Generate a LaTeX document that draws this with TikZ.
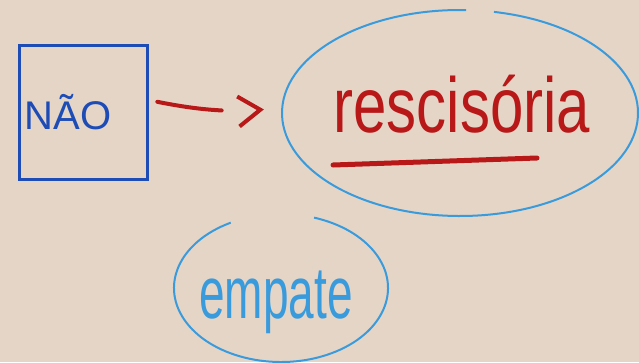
\documentclass[tikz,border=0pt]{standalone}
\usepackage{fontspec}
\setmainfont{Liberation Sans}
\usetikzlibrary{arrows.meta,positioning,shapes.geometric}
\definecolor{paper}{RGB}{229,213,199}
\definecolor{ink}{RGB}{30,76,182}
\definecolor{marker}{RGB}{184,24,24}
\definecolor{sky}{RGB}{58,155,220}

\begin{document}
\begin{tikzpicture}[x=1pt, y=-1pt,
        box/.style={draw=ink, line width=3pt, minimum width=128pt, minimum height=134pt, inner sep=0pt},
        oval/.style={ellipse, inner sep=0pt},
        ring/.style={sky, line width=2pt},
        word/.style={inner sep=0pt},
        arr/.style={-{Straight Barb[length=22pt, width=30pt]}, marker, line width=4pt,
                    line cap=round, dash pattern=on 65pt off 300pt}
    ]
        \fill[paper] (0,0) rectangle (639,362);
        \useasboundingbox (0,0) rectangle (639,362);

        % left box
        \node[box] (nao) at (83,112) {};
        \node[word, ink, font=\fontsize{40}{40}\selectfont] (naotxt) at (68,112) {NÃO};

        % big oval
        \node[oval, minimum width=356pt, minimum height=206pt] (resc) at (460,113) {};
        \draw[ring] (resc.center) ++(88:178pt and 103pt)
            arc[start angle=88, end angle=439, x radius=178pt, y radius=103pt];
        \node[word, marker, font=\fontsize{60}{60}\selectfont] (resctxt) at (462,104)
            {\scalebox{1}[1.3]{rescisória}};
        \draw[marker, line width=5pt, line cap=round] (333,165) -- (537,158);

        % small oval
        \node[oval, minimum width=214pt, minimum height=148pt] (emp) at (281,288) {};
        \draw[ring] (emp.center) ++(118:107pt and 74pt)
            arc[start angle=118, end angle=432, x radius=107pt, y radius=74pt];
        \node[word, sky, font=\fontsize{46}{46}\selectfont] (emptxt) at (276,302)
            {\scalebox{1}[1.6]{empate}};

        \draw[arr, shorten <=9pt, shorten >=18pt] ([yshift=12pt]nao.east) to[bend right=8] ([yshift=5pt]resc.west);
    \end{tikzpicture}
\end{document}
